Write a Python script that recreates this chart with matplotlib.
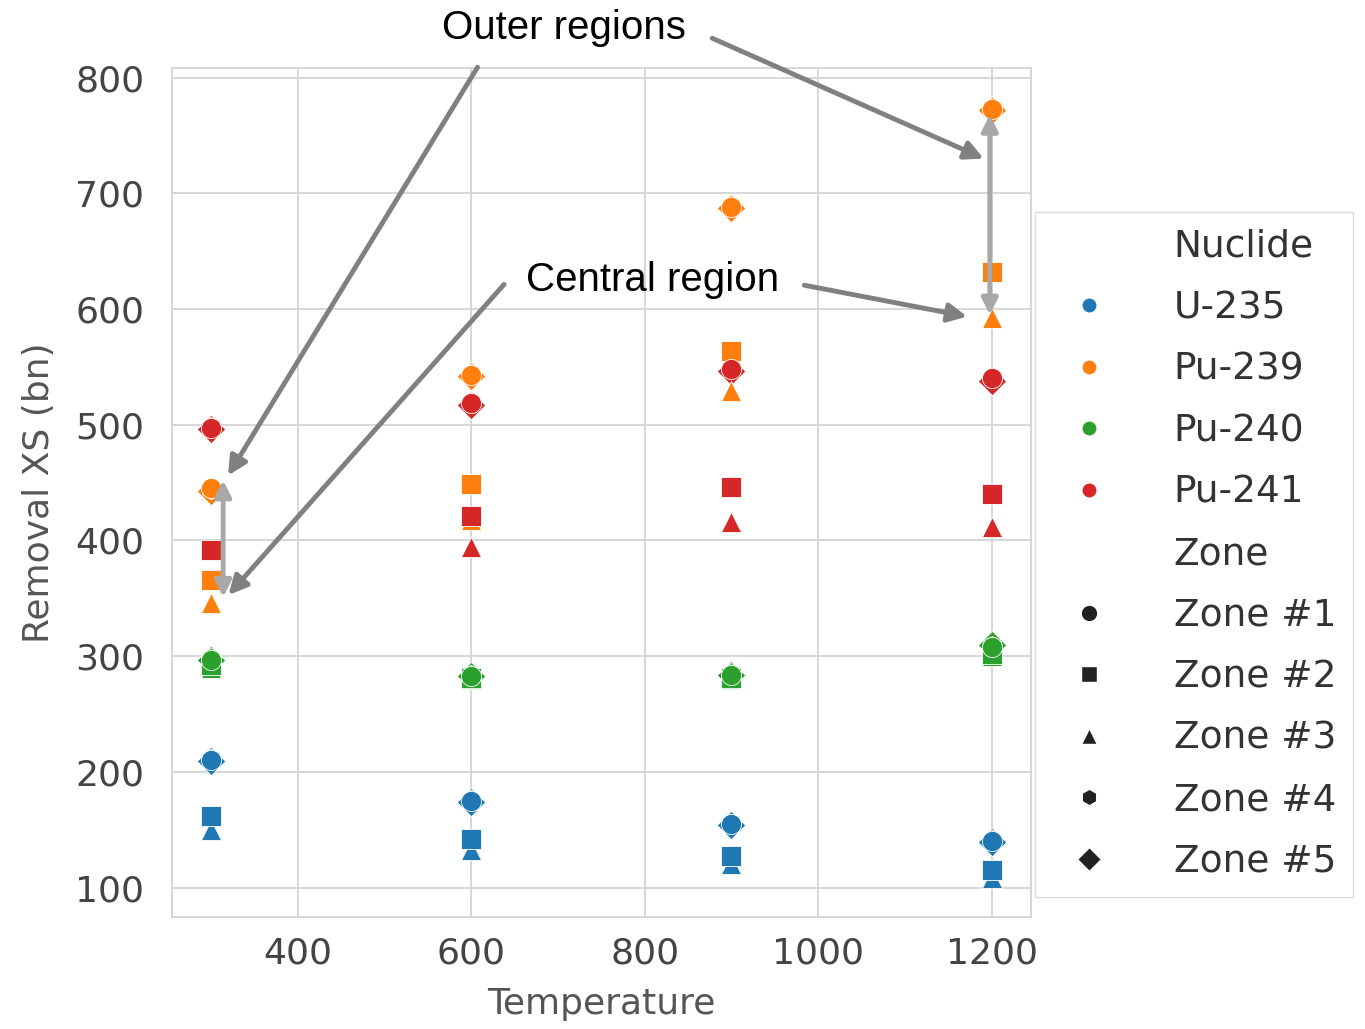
import matplotlib
matplotlib.use("Agg")
import matplotlib.pyplot as plt
from matplotlib.lines import Line2D

# --- DATA ---
temps = [300, 600, 900, 1200]
zones = ["Zone #1", "Zone #2", "Zone #3", "Zone #4", "Zone #5"]
nuclides = ["U-235", "Pu-239", "Pu-240", "Pu-241"]

# rows = zones 1..5, columns = temperatures
u235_xs = [[210, 175, 155, 140],
           [162, 142, 127, 115],
           [150, 132, 120, 108],
           [211, 176, 155, 141],
           [209, 174, 154, 139]]
pu239_xs = [[445, 543, 688, 773],
            [366, 449, 564, 632],
            [346, 418, 529, 592],
            [444, 544, 690, 775],
            [443, 542, 687, 772]]
pu240_xs = [[297, 283, 284, 308],
            [292, 281, 281, 302],
            [290, 280, 280, 300],
            [298, 284, 285, 309],
            [297, 283, 284, 310]]
pu241_xs = [[497, 519, 548, 540],
            [392, 421, 446, 440],
            [366, 394, 416, 412],
            [498, 520, 549, 541],
            [496, 517, 546, 538]]

xs_data = [u235_xs, pu239_xs, pu240_xs, pu241_xs]
colors  = ["#1f77b4", "#ff7f0e", "#2ca02c", "#d62728"]
markers = ["o", "s", "^", "h", "D"]

plt.rcParams["font.family"] = ["DejaVu Sans"]

fig = plt.figure(figsize=(13.65, 10.29), dpi=100)
ax = fig.add_axes([0.126, 0.109, 0.629, 0.825])

# draw outer zones last, central zones (3 before 2)
for z in [4, 3, 2, 1, 0]:
    for n in range(len(nuclides)):
        ax.scatter(temps, xs_data[n][z], s=210, marker=markers[z],
                   color=colors[n], edgecolor="white", linewidth=0.6, zorder=3)

ax.set_xticks([400, 600, 800, 1000, 1200])
ax.set_yticks([100, 200, 300, 400, 500, 600, 700, 800])
ax.tick_params(axis="x", labelsize=26, colors="#444444", length=0, pad=14)
ax.tick_params(axis="y", labelsize=26, colors="#444444", length=0, pad=20)
ax.grid(True, color="#d4d4d4", linewidth=1.3, zorder=0)
ax.set_axisbelow(True)
for sp in ax.spines.values():
    sp.set_color("#d4d4d4")
    sp.set_linewidth(1.3)
ax.set_xlabel("Temperature", fontsize=26, color="#555555", labelpad=12)
ax.set_ylabel("Removal XS (bn)", fontsize=26, color="#555555", labelpad=14)

# --- annotations ---
txt_font = ["Liberation Sans Narrow", "Liberation Sans", "DejaVu Sans"]
ax.text(707, 843, "Outer regions", fontsize=29, family=txt_font,
        ha="center", va="center", clip_on=False)
ax.text(809, 625, "Central region", fontsize=29, family=txt_font,
        ha="center", va="center", clip_on=False)

single = dict(arrowstyle="-|>", color="#808080", lw=3.5, mutation_scale=28)
double = dict(arrowstyle="<|-|>", color="#a8a8a8", lw=3.5, mutation_scale=24,
              shrinkA=0, shrinkB=0)
ax.annotate("", xy=(318, 454), xytext=(609, 811), arrowprops=single,
            annotation_clip=False)
ax.annotate("", xy=(1194, 729), xytext=(875, 835), arrowprops=single,
            annotation_clip=False)
ax.annotate("", xy=(318, 351), xytext=(640, 623), arrowprops=single,
            annotation_clip=False)
ax.annotate("", xy=(1175, 593), xytext=(981, 621), arrowprops=single,
            annotation_clip=False)
ax.annotate("", xy=(314, 351), xytext=(314, 452), arrowprops=double)
ax.annotate("", xy=(1198, 595), xytext=(1198, 768), arrowprops=double)

# --- legend ---
blank = Line2D([], [], linestyle="none", marker="")
handles = [blank]
labels = ["Nuclide"]
for n, c in enumerate(colors):
    handles.append(Line2D([], [], linestyle="none", marker="o", markersize=11,
                          color=c, markeredgecolor="white"))
    labels.append(nuclides[n])
handles.append(blank)
labels.append("Zone")
for z, m in enumerate(markers):
    handles.append(Line2D([], [], linestyle="none", marker=m, markersize=12,
                          color="#222222", markeredgecolor="white"))
    labels.append(zones[z])

leg = fig.legend(handles, labels, loc="upper left",
                 bbox_to_anchor=(1035 / 1365, 1 - 212 / 1029),
                 bbox_transform=fig.transFigure, borderaxespad=0,
                 fontsize=27, labelspacing=0.68, handlelength=2.0,
                 handletextpad=1.25, borderpad=0.45, frameon=True,
                 fancybox=False, edgecolor="#d4d4d4")
for t in leg.get_texts():
    t.set_color("#333333")

fig.savefig("out.png", dpi=100)
